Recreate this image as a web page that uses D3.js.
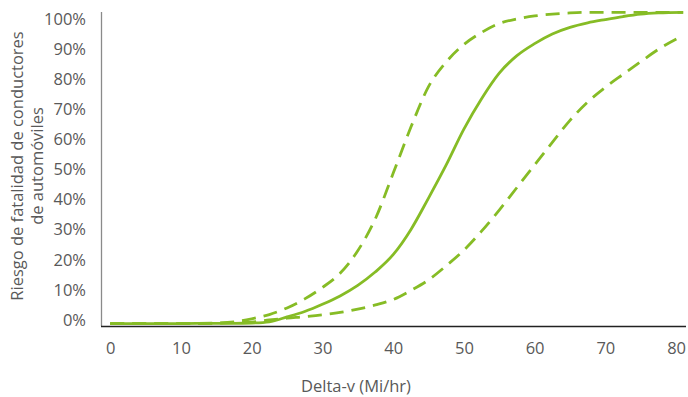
<!DOCTYPE html>
<html>
<head>
<meta charset="utf-8">
<script src="https://cdn.jsdelivr.net/npm/d3@7"></script>
<style>
  body { margin: 0; background: #fff; }
  svg text { font-family: "Open Sans", sans-serif; fill: #595959; }
</style>
</head>
<body>
<div id="chart"></div>
<script>
// Delta-v (Mi/hr)
const deltaV = [0, 5, 10, 15, 17.5, 20, 22.5, 25, 27.5, 30, 32.5, 35, 37.5, 40, 42.5, 45, 47.5, 50,
                52.5, 55, 57.5, 60, 62.5, 65, 67.5, 70, 72.5, 75, 77.5, 81];
// riesgo estimado (curva central) y límites
const riesgoMedio = [-0.012, -0.012, -0.012, -0.011, -0.011, -0.01, -0.006, 0.01, 0.028, 0.052, 0.08, 0.115, 0.16, 0.217, 0.3, 0.405, 0.515, 0.634,
                     0.735, 0.82, 0.878, 0.918, 0.95, 0.972, 0.987, 0.998, 1.008, 1.016, 1.02, 1.022];
const riesgoAlto  = [-0.012, -0.012, -0.012, -0.01, -0.006, 0.004, 0.018, 0.04, 0.07, 0.108, 0.155, 0.23, 0.337, 0.487, 0.64, 0.775, 0.857, 0.915,
                     0.955, 0.985, 1.0, 1.01, 1.016, 1.02, 1.022, 1.022, 1.022, 1.022, 1.022, 1.022];
const riesgoBajo  = [-0.012, -0.012, -0.012, -0.011, -0.009, -0.007, 0, 0.006, 0.011, 0.017, 0.025, 0.036, 0.05, 0.068, 0.098, 0.133, 0.18, 0.232,
                     0.295, 0.365, 0.44, 0.515, 0.59, 0.663, 0.724, 0.773, 0.816, 0.858, 0.899, 0.945];
const xTicks = [0, 10, 20, 30, 40, 50, 60, 70, 80];
const yTicks = [0, 0.1, 0.2, 0.3, 0.4, 0.5, 0.6, 0.7, 0.8, 0.9, 1.0];

const width = 688, height = 397;
const green = "#86bc25";

const svg = d3.select("#chart").append("svg")
    .attr("width", width)
    .attr("height", height);

const x = d3.scaleLinear().domain([-1.3, 81.4]).range([101, 686]);
const y = d3.scaleLinear().domain([-0.02, 1.023]).range([326, 12]);

// eje y
svg.append("g")
    .attr("transform", "translate(101,0)")
    .call(d3.axisLeft(y).tickValues(yTicks).tickSize(0).tickPadding(15)
        .tickFormat(d3.format(".0%")))
    .call(g => g.select(".domain").remove())
    .selectAll("text").style("font-size", "16.5px");

// eje x
svg.append("g")
    .attr("transform", "translate(0,326)")
    .call(d3.axisBottom(x).tickValues(xTicks).tickSize(0).tickPadding(16))
    .call(g => g.select(".domain").remove())
    .selectAll("text").style("font-size", "16.5px");

const line = d3.line()
    .x((d, i) => x(deltaV[i]))
    .y(d => y(d))
    .curve(d3.curveMonotoneX);

svg.append("path").datum(riesgoAlto)
    .attr("d", line).attr("fill", "none")
    .attr("stroke", green).attr("stroke-width", 2.8)
    .attr("stroke-dasharray", "14,8");
svg.append("path").datum(riesgoBajo)
    .attr("d", line).attr("fill", "none")
    .attr("stroke", green).attr("stroke-width", 2.8)
    .attr("stroke-dasharray", "14,8");
svg.append("path").datum(riesgoMedio)
    .attr("d", line).attr("fill", "none")
    .attr("stroke", green).attr("stroke-width", 2.8);

// líneas de ejes
svg.append("line")
    .attr("x1", 101.5).attr("x2", 101.5).attr("y1", 12).attr("y2", 326)
    .attr("stroke", "#8a8a8a").attr("stroke-width", 1.3);
svg.append("line")
    .attr("x1", 101).attr("x2", 686).attr("y1", 326.5).attr("y2", 326.5)
    .attr("stroke", "#222").attr("stroke-width", 1.3);

// títulos
svg.append("text")
    .attr("x", 356).attr("y", 392)
    .attr("text-anchor", "middle")
    .style("font-size", "16.5px")
    .text("Delta-v (Mi/hr)");

const yTitle = svg.append("text")
    .attr("transform", "translate(23,166) rotate(-90)")
    .attr("text-anchor", "middle")
    .style("font-size", "16.5px");
yTitle.append("tspan").attr("x", 0).attr("dy", 0).text("Riesgo de fatalidad de conductores");
yTitle.append("tspan").attr("x", 0).attr("dy", "1.2em").text("de automóviles");
</script>
</body>
</html>
